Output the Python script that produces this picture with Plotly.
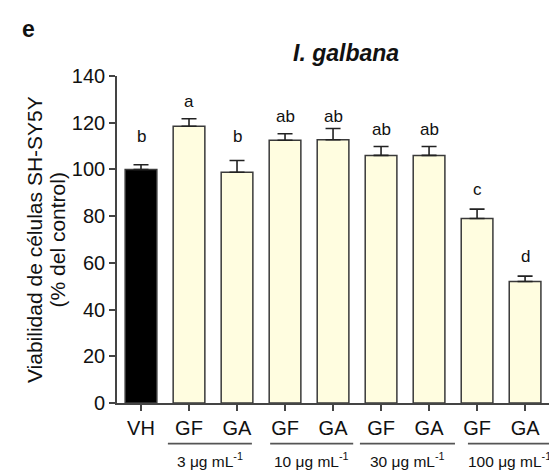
import plotly.graph_objects as go

categories = ["VH", "GF3", "GA3", "GF10", "GA10", "GF30", "GA30", "GF100", "GA100"]
tick_labels = ["VH", "GF", "GA", "GF", "GA", "GF", "GA", "GF", "GA"]
values = [100, 118.5, 98.8, 112.5, 112.7, 106.0, 106.0, 79.0, 52.0]
sem = [2.0, 3.2, 5.0, 2.8, 4.8, 3.8, 3.8, 4.0, 2.3]
letters = ["b", "a", "b", "ab", "ab", "ab", "ab", "c", "d"]
letter_y = [111.5, 126.5, 111.5, 120.0, 120.0, 114.3, 114.3, 88.6, 60.0]
groups = ["3 μg mL<sup>-1</sup>", "10 μg mL<sup>-1</sup>", "30 μg mL<sup>-1</sup>", "100 μg mL<sup>-1</sup>"]
group_start = [1, 3, 5, 7]
# underline extents relative to the first bar of each pair (layout only)
line_left = [-0.44, -0.31, -0.44, -0.19]
line_right = [1.31, 1.42, 1.54, 1.54]

FONT = "Liberation Sans, Arial, sans-serif"
fill = ["#000000"] + ["#FFFDE0"] * 8
xs = list(range(len(categories)))

fig = go.Figure()
fig.add_trace(go.Bar(
    x=xs, y=values, width=0.66,
    marker=dict(color=fill, line=dict(color="#3a3a3a", width=1.5)),
    error_y=dict(type="data", array=sem, arrayminus=[0]*len(sem), symmetric=False,
                 color="#222222", thickness=1.6, width=7.5),
    showlegend=False,
))

annotations = []
for i, (t, ly) in enumerate(zip(letters, letter_y)):
    annotations.append(dict(x=i, y=ly, xref="x", yref="y", text=t, showarrow=False,
                            yanchor="bottom", yshift=-4, borderpad=0,
                            font=dict(family=FONT, size=17, color="#111")))

shapes = []
for g, s, a, b in zip(groups, group_start, line_left, line_right):
    shapes.append(dict(type="line", xref="x", yref="paper", x0=s + a, x1=s + b,
                       y0=-0.124, y1=-0.124, line=dict(color="#555", width=1.8)))
    annotations.append(dict(x=s + (a + b) / 2, y=-0.137, xref="x", yref="paper", text=g,
                            showarrow=False, yanchor="top", xanchor="center",
                            font=dict(family=FONT, size=15.5, color="#111")))

annotations.append(dict(x=-0.19, y=0.5, xref="paper", yref="paper",
                        text="Viabilidad de células SH-SY5Y",
                        textangle=-90, showarrow=False, xanchor="center", yanchor="middle",
                        font=dict(family=FONT, size=21, color="#111")))
annotations.append(dict(x=-0.136, y=0.5, xref="paper", yref="paper",
                        text="(% del control)",
                        textangle=-90, showarrow=False, xanchor="center", yanchor="middle",
                        font=dict(family=FONT, size=21, color="#111")))
annotations.append(dict(x=0.528, y=1.07, xref="paper", yref="paper",
                        text="<b><i>I. galbana</i></b>", showarrow=False,
                        xanchor="center", yanchor="middle",
                        font=dict(family=FONT, size=23, color="#111")))
annotations.append(dict(x=-0.203, y=1.143, xref="paper", yref="paper",
                        text="<b>e</b>", showarrow=False,
                        xanchor="center", yanchor="middle",
                        font=dict(family=FONT, size=23, color="#111")))

fig.update_layout(
    width=557, height=475,
    margin=dict(l=109, r=14, t=68, b=80),
    paper_bgcolor="white", plot_bgcolor="white",
    font=dict(family=FONT, size=18, color="#111"),
    xaxis=dict(range=[-0.5, 8.54], tickmode="array", tickvals=xs, ticktext=tick_labels,
               showline=True, linecolor="#444", linewidth=1.6, ticks="outside",
               ticklen=6, tickwidth=1.6, tickcolor="#444", showgrid=False, zeroline=False,
               tickfont=dict(family=FONT, size=20, color="#111")),
    yaxis=dict(range=[0, 140], tickvals=[0, 20, 40, 60, 80, 100, 120, 140],
               showline=True, linecolor="#444", linewidth=1.6, ticks="outside",
               ticklen=6, tickwidth=1.6, tickcolor="#444", showgrid=False, zeroline=False,
               tickfont=dict(family=FONT, size=20, color="#111")),
    annotations=annotations, shapes=shapes,
)

fig.write_html("out.html")
